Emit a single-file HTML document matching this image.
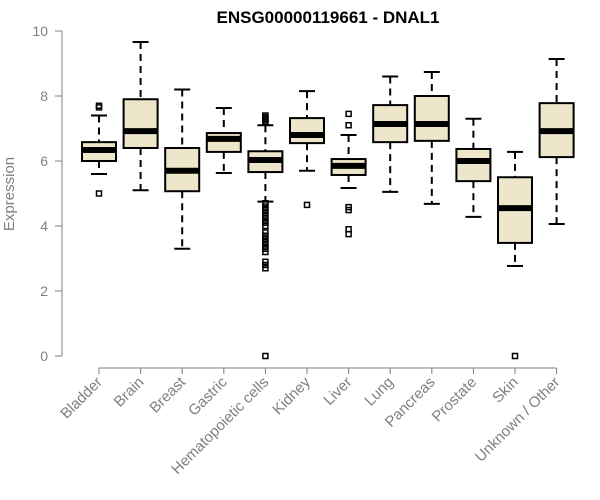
<!DOCTYPE html>
<html><head><meta charset="utf-8"><style>
body{margin:0;background:#fff}
svg{display:block;font-family:"Liberation Sans",sans-serif}
</style></head><body>
<svg id="chart" width="600" height="500">
<text x="328" y="23" text-anchor="middle" font-weight="bold" font-size="17" fill="#000">ENSG00000119661 - DNAL1</text>
<text transform="translate(14,194) rotate(-90)" text-anchor="middle" font-size="15" fill="#808080">Expression</text>
<g id="axes"></g><g id="boxes"></g>
</svg>
<script>
const categories=["Bladder","Brain","Breast","Gastric","Hematopoietic cells","Kidney","Liver","Lung","Pancreas","Prostate","Skin","Unknown / Other"];
const whiskerLow=[5.6,5.1,3.3,5.63,4.75,5.7,5.17,5.05,4.68,4.28,2.77,4.06];
const q1=[6.0,6.4,5.07,6.28,5.66,6.55,5.57,6.58,6.62,5.38,3.48,6.12];
const medians=[6.34,6.92,5.7,6.68,6.03,6.8,5.85,7.14,7.14,6.0,4.55,6.92];
const q3=[6.58,7.9,6.4,6.86,6.3,7.32,6.06,7.72,8.0,6.37,5.5,7.78];
const whiskerHigh=[7.4,9.66,8.2,7.63,7.1,8.15,6.8,8.6,8.74,7.3,6.28,9.14];
const outliers=[[7.7,7.65,5.0],[],[],[],[7.4,7.35,7.3,7.25,7.2,4.7,4.6,4.5,4.4,4.3,4.2,4.1,4.0,3.8,3.7,3.6,3.5,3.4,3.3,3.2,2.9,2.8,2.7,0],[4.65],[7.45,7.1,4.58,4.49,3.9,3.75],[],[],[],[0],[]];
const yTicks=[0,2,4,6,8,10];
const NS="http://www.w3.org/2000/svg";
const y=v=>356-v*32.5;
const x=i=>99+i*41.6;
function mk(t,a,p){const e=document.createElementNS(NS,t);for(const k in a)e.setAttribute(k,a[k]);p.appendChild(e);return e;}
const ax=document.getElementById('axes'),bx=document.getElementById('boxes');
const yl=mk('line',{x1:62,x2:62,y1:y(0),y2:y(10),stroke:'#808080'},ax);


yTicks.forEach(t=>{
 const l=mk('line',{x1:55,x2:62,y1:y(t),y2:y(t),stroke:'#808080'},ax);
 
 
 const tx=mk('text',{x:48,y:y(t)+5,'text-anchor':'end','font-size':14,fill:'#808080'},ax);
 tx.textContent=t;
 
 
});
const xl=mk('line',{x1:x(0),x2:x(categories.length-1),y1:368,y2:368,stroke:'#808080'},ax);


categories.forEach((c,i)=>{
 const cx=x(i);
 const tk=mk('line',{x1:cx,x2:cx,y1:368,y2:374,stroke:'#808080'},ax);
 
 
 const tx=mk('text',{transform:`translate(${cx+4},${383}) rotate(-45)`,'text-anchor':'end','font-size':15,fill:'#808080'},ax);
 tx.textContent=c;
 
 
 const g=mk('g',{},bx);
 
 
 mk('line',{x1:cx,x2:cx,y1:y(whiskerHigh[i]),y2:y(q3[i]),stroke:'#000','stroke-width':2,'stroke-dasharray':'7,5'},g);
 mk('line',{x1:cx,x2:cx,y1:y(q1[i]),y2:y(whiskerLow[i]),stroke:'#000','stroke-width':2,'stroke-dasharray':'7,5'},g);
 mk('line',{x1:cx-8,x2:cx+8,y1:y(whiskerHigh[i]),y2:y(whiskerHigh[i]),stroke:'#000','stroke-width':2},g);
 mk('line',{x1:cx-8,x2:cx+8,y1:y(whiskerLow[i]),y2:y(whiskerLow[i]),stroke:'#000','stroke-width':2},g);
 mk('rect',{x:cx-17,y:y(q3[i]),width:34,height:y(q1[i])-y(q3[i]),fill:'#EDE6CB',stroke:'#000','stroke-width':2},g);
 mk('line',{x1:cx-17,x2:cx+17,y1:y(medians[i]),y2:y(medians[i]),stroke:'#000','stroke-width':6},g);
 outliers[i].forEach(o=>{
  const p=mk('rect',{x:cx-2.5,y:y(o)-2.5,width:5,height:5,fill:'none',stroke:'#000','stroke-width':1.5},g);
  
  
 });
});
</script>
</body></html>
